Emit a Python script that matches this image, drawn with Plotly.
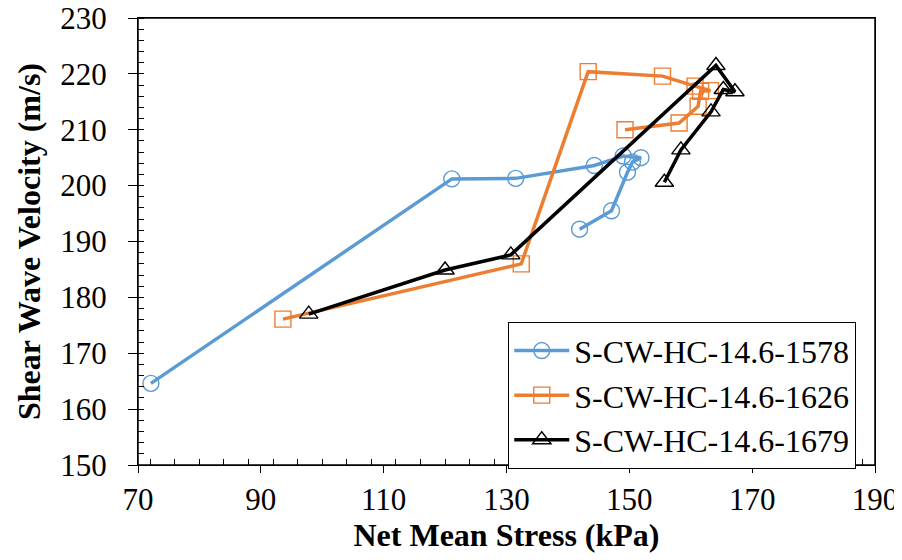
import plotly.graph_objects as go

names = ["S-CW-HC-14.6-1578", "S-CW-HC-14.6-1626", "S-CW-HC-14.6-1679"]

x_1578 = [72.1, 121.1, 131.5, 144.3, 149.0, 151.9, 150.5, 149.7, 147.1, 141.9]
y_1578 = [164.6, 201.2, 201.3, 203.6, 205.3, 205.0, 204.2, 202.4, 195.5, 192.2]

x_1626 = [93.6, 132.4, 143.3, 155.4, 160.7, 163.2, 161.6, 161.2, 158.1, 149.3]
y_1626 = [176.1, 186.0, 220.4, 219.6, 217.8, 217.0, 216.9, 214.2, 211.2, 210.0]

x_1679 = [97.8, 120.0, 130.7, 164.1, 167.2, 165.3, 163.3, 158.4, 155.7]
y_1679 = [177.0, 184.9, 187.6, 221.5, 216.8, 217.2, 213.2, 206.4, 200.6]

colors = ["#5B9BD5", "#ED7D31", "#000000"]
symbols = ["circle-open", "square-open", "triangle-up-open"]

fig = go.Figure()
for nm, xs, ys, c, s in zip(names, [x_1578, x_1626, x_1679], [y_1578, y_1626, y_1679], colors, symbols):
    fig.add_trace(go.Scatter(
        x=xs, y=ys, name=nm, mode="lines+markers",
        line=dict(color=c, width=3.5),
        marker=dict(symbol=s, size=16, color=c, line=dict(color=c, width=1.4)),
    ))

font_family = "Liberation Serif"
fig.update_layout(
    width=902, height=560,
    margin=dict(l=130, r=35, t=10, b=103, autoexpand=False),
    paper_bgcolor="white", plot_bgcolor="white",
    font=dict(family=font_family, color="black", size=31),
    showlegend=True,
    legend=dict(
        x=0.502, y=0.32, xanchor="left", yanchor="top",
        bordercolor="black", borderwidth=1.3, bgcolor="white",
        font=dict(size=32, family=font_family, color="black"),
        tracegroupgap=0, itemwidth=55,
    ),
    shapes=[dict(type="rect", xref="paper", yref="paper", x0=0, x1=1, y0=0, y1=1,
                 line=dict(color="black", width=1.5), fillcolor="rgba(0,0,0,0)", layer="above")],
)
fig.update_xaxes(
    range=[70, 190], dtick=20, tick0=70, automargin=False, ticklabeloverflow="allow",
    showgrid=False, zeroline=False,
    showline=True, linecolor="black", linewidth=1.3, mirror=True,
    ticks="outside", ticklen=7, tickcolor="black", tickwidth=1,
    minor=dict(dtick=4, ticks="inside", ticklen=6, tickcolor="black", tickwidth=1, showgrid=False),
    tickfont=dict(size=31, family=font_family),
    title=dict(text="<b>Net Mean Stress (kPa)</b>", font=dict(size=32, family=font_family), standoff=7),
)
fig.update_yaxes(
    range=[150, 230], dtick=10, automargin=False, ticklabeloverflow="allow",
    showgrid=False, zeroline=False,
    showline=True, linecolor="black", linewidth=1.3, mirror=True,
    ticks="outside", ticklen=9, tickcolor="black", tickwidth=1,
    minor=dict(dtick=2, ticks="inside", ticklen=6, tickcolor="black", tickwidth=1, showgrid=False),
    tickfont=dict(size=31, family=font_family), ticklabelstandoff=15,
    title=dict(text="<b>Shear Wave Velocity (m/s)</b>", font=dict(size=32, family=font_family), standoff=9),
)

fig.write_html("out.html")
